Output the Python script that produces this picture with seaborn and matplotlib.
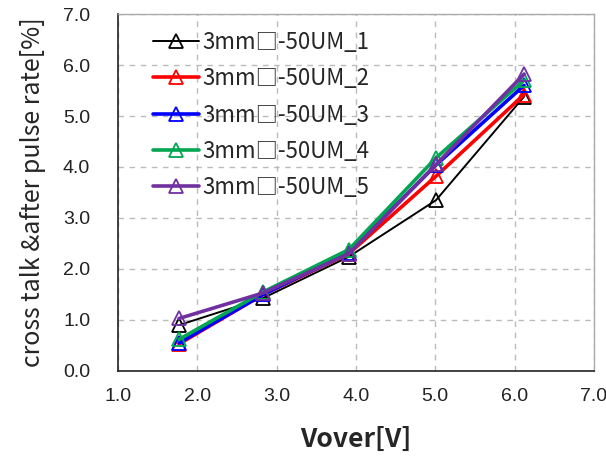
import matplotlib
matplotlib.use("Agg")
import matplotlib.pyplot as plt
import seaborn as sns
import pandas as pd

# Over-voltage [V] and cross talk & after pulse rate [%] for five samples
vover = [1.77, 2.83, 3.91, 5.01, 6.12]
rate_1 = [0.90, 1.43, 2.24, 3.35, 5.38]
rate_2 = [0.53, 1.50, 2.30, 3.82, 5.42]
rate_3 = [0.55, 1.50, 2.32, 4.04, 5.60]
rate_4 = [0.62, 1.55, 2.38, 4.18, 5.70]
rate_5 = [1.03, 1.53, 2.30, 4.05, 5.82]
labels = ["3mm□-50UM_1", "3mm□-50UM_2", "3mm□-50UM_3", "3mm□-50UM_4", "3mm□-50UM_5"]
colors = ["#000000", "#FF0000", "#0000FF", "#00A651", "#7030A0"]
widths = [1.4, 2.6, 2.6, 2.6, 2.6]
x_tick_labels = ["1.0", "2.0", "3.0", "4.0", "5.0", "6.0", "7.0"]
y_tick_labels = ["0.0", "1.0", "2.0", "3.0", "4.0", "5.0", "6.0", "7.0"]

series = [rate_1, rate_2, rate_3, rate_4, rate_5]
df = pd.concat(
    [pd.DataFrame({"Vover": vover, "rate": vals, "sample": lab}) for vals, lab in zip(series, labels)],
    ignore_index=True,
)

sns.set_style("white")
plt.rcParams["font.family"] = ["Liberation Sans", "DejaVu Sans"]
jp = ["Noto Sans CJK JP", "DejaVu Sans"]

fig = plt.figure(figsize=(6.06, 4.67), dpi=100)
ax = fig.add_axes([0.1947, 0.2056, 0.7853, 0.7644])

for lab, col, lw in zip(labels, colors, widths):
    sub = df[df["sample"] == lab]
    sns.lineplot(data=sub, x="Vover", y="rate", ax=ax, color=col, linewidth=lw,
                 marker="^", markersize=10, markerfacecolor="none",
                 markeredgecolor=col, markeredgewidth=1.3, label=lab)

ax.set_xlim(1.0, 7.0)
ax.set_ylim(0.0, 7.0)
ax.set_xticks([1, 2, 3, 4, 5, 6, 7])
ax.set_xticklabels(x_tick_labels)
ax.set_yticks(range(8))
ax.set_yticklabels(y_tick_labels)
ax.tick_params(axis="both", direction="in", length=4, width=1, colors="#333333",
               labelsize=14, labelcolor="#222222")
ax.tick_params(axis="x", pad=12)
ax.tick_params(axis="y", pad=20)
ax.grid(True, color="#BBBBBB", linestyle=(0, (4, 4)), linewidth=1)

for side in ["left", "bottom"]:
    ax.spines[side].set_color("#222222")
    ax.spines[side].set_linewidth(1.2)
for side in ["top", "right"]:
    ax.spines[side].set_color("#AAAAAA")
    ax.spines[side].set_linewidth(1.0)

ax.set_xlabel("Vover[V]", fontsize=19, fontweight="bold", family=jp, labelpad=15)
ax.set_ylabel("cross talk &after pulse rate[%]", fontsize=18, family=jp, labelpad=12)

leg = ax.legend(loc="upper left", frameon=False, prop={"family": jp, "size": 16},
                handlelength=2.1, handletextpad=0.15, labelspacing=0.6,
                borderaxespad=0.2, bbox_to_anchor=(0.045, 0.99), numpoints=1)

fig.savefig("out.png", dpi=100)
